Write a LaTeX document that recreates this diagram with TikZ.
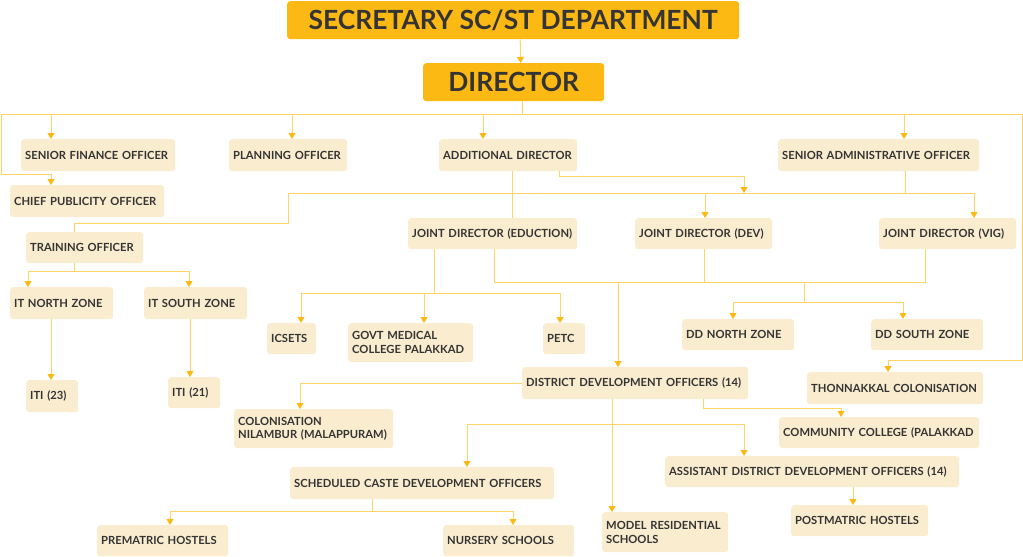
\documentclass[tikz,border=0pt]{standalone}
\usepackage{fontspec}
\setmainfont{Lato}
\usepackage{xcolor}
\usetikzlibrary{arrows.meta}
\usetikzlibrary{calc}

\definecolor{headgold}{RGB}{253,185,19}
\definecolor{boxcream}{RGB}{250,236,206}
\definecolor{wiregold}{RGB}{255,212,100}
\definecolor{inkgray}{RGB}{52,52,52}

\begin{document}
\begin{tikzpicture}[x=1pt, y=-1pt,
    head/.style={fill=headgold, rounded corners=3pt, anchor=north west, inner sep=0pt,
      text=inkgray, font=\fontsize{26.4}{30}\selectfont\bfseries},
    unit/.style={fill=boxcream, rounded corners=3pt, anchor=north west, inner sep=4pt,
      align=left, text=inkgray, font=\fontsize{11.2}{13.7}\selectfont\bfseries},
    wire/.style={draw=wiregold, line width=1pt},
    wirearrow/.style={wire, -{Triangle[width=7pt,length=6pt,color=headgold]}}]
  \useasboundingbox (0,0) rectangle (1023,557);

  % top of the chart
  \node[head, minimum width=452, minimum height=38] (sec) at (287,1) {SECRETARY SC/ST DEPARTMENT};
  \node[head, minimum width=181, minimum height=38] (dir) at (423,63) {DIRECTOR};

  \node[unit, minimum height=32, text width=146] (sfo) at (21,139) {SENIOR FINANCE OFFICER};
  \node[unit, minimum height=32, text width=110] (po) at (229,139) {PLANNING OFFICER};
  \node[unit, minimum height=32, text width=130] (ad) at (439,139) {ADDITIONAL DIRECTOR};
  \node[unit, minimum height=32, text width=193] (sao) at (778,139) {SENIOR ADMINISTRATIVE OFFICER};
  \node[unit, minimum height=32, text width=146] (cpo) at (10,185) {CHIEF PUBLICITY OFFICER};
  \node[unit, minimum height=31, text width=109] (to) at (26,232) {TRAINING OFFICER};

  \node[unit, minimum height=31, text width=161] (jdedu) at (408,218) {JOINT DIRECTOR (EDUCTION)};
  \node[unit, minimum height=31, text width=129] (jddev) at (635,218) {JOINT DIRECTOR (DEV)};
  \node[unit, minimum height=31, text width=129] (jdvig) at (879,218) {JOINT DIRECTOR (VIG)};

  \node[unit, minimum height=32, text width=95] (itn) at (10,287) {IT NORTH ZONE};
  \node[unit, minimum height=32, text width=95] (its) at (144,287) {IT SOUTH ZONE};
  \node[unit, minimum height=32, text width=44] (iti23) at (26,380) {ITI (23)};
  \node[unit, minimum height=31, text width=44] (iti21) at (168,377) {ITI (21)};

  \node[unit, minimum height=31, text width=41] (icsets) at (267,323) {ICSETS};
  \node[unit, minimum height=39, text width=117] (gmc) at (348,323) {GOVT MEDICAL\\COLLEGE PALAKKAD};
  \node[unit, minimum height=31, text width=34] (petc) at (543,323) {PETC};
  \node[unit, minimum height=31, text width=104] (ddn) at (682,319) {DD NORTH ZONE};
  \node[unit, minimum height=31, text width=104] (dds) at (871,319) {DD SOUTH ZONE};

  \node[unit, minimum height=32, text width=218] (ddo) at (522,367) {DISTRICT DEVELOPMENT OFFICERS (14)};
  \node[unit, minimum height=32, text width=168] (thon) at (807,372) {THONNAKKAL COLONISATION};
  \node[unit, minimum height=39, text width=151] (col) at (234,409) {COLONISATION\\NILAMBUR (MALAPPURAM)};
  \node[unit, minimum height=31, text width=192] (cc) at (779,417) {COMMUNITY COLLEGE (PALAKKAD};
  \node[unit, minimum height=31, text width=286] (addo) at (665,456) {ASSISTANT DISTRICT DEVELOPMENT OFFICERS (14)};
  \node[unit, minimum height=32, text width=256] (scdo) at (290,467) {SCHEDULED CASTE DEVELOPMENT OFFICERS};
  \node[unit, minimum height=31, text width=129] (post) at (791,505) {POSTMATRIC HOSTELS};
  \node[unit, minimum height=40, text width=118] (mrs) at (602,512) {MODEL RESIDENTIAL\\SCHOOLS};
  \node[unit, minimum height=31, text width=123] (prem) at (97,525) {PREMATRIC HOSTELS};
  \node[unit, minimum height=31, text width=123] (nurs) at (443,525) {NURSERY SCHOOLS};

  \coordinate (lbend) at (1,174);
  \coordinate (rbend) at (1022,360);
  \coordinate (jdbus) at (744,193);
  \coordinate (tobend) at (288,223);
  \coordinate (jdjoin) at (618,282);
  \coordinate (ddjoin) at (804,282);

  % secretary and director
  \draw[wirearrow] ([xshift=7]sec.south) -- ([xshift=7]dir.north);
  \draw[wirearrow] ([xshift=9]dir.south) -- ++(0,13) -| ([xshift=30]sfo.north west);
  \draw[wirearrow] ([xshift=9]dir.south) -- ++(0,13) -| ([xshift=63]po.north west);
  \draw[wirearrow] ([xshift=9]dir.south) -- ++(0,13) -| ([xshift=44]ad.north west);
  \draw[wirearrow] ([xshift=9]dir.south) -- ++(0,13) -| ([xshift=126]sao.north west);
  \draw[wirearrow] ([xshift=9]dir.south) -- ++(0,13) -| (lbend) -| ([xshift=41]cpo.north west);
  \draw[wirearrow] ([xshift=9]dir.south) -- ++(0,13) -| (rbend) -| ([xshift=81]thon.north west);

  % additional director, senior administrative officer
  \draw[wire] ([xshift=73]ad.south west) -- ([xshift=104]jdedu.north west);
  \draw[wirearrow] ([xshift=120]ad.south west) -- ++(0,5) -| (jdbus);
  \draw[wire] ([xshift=127]sao.south west) -- ++(0,22) -| (tobend) -| ([xshift=48]to.north west);
  \draw[wirearrow] ([xshift=127]sao.south west) -- ++(0,22) -| ([xshift=70]jddev.north west);
  \draw[wirearrow] ([xshift=127]sao.south west) -- ++(0,22) -| ([xshift=95]jdvig.north west);

  % training officer
  \draw[wirearrow] ([xshift=48]to.south west) -- ++(0,8) -| ([xshift=18]itn.north west);
  \draw[wirearrow] ([xshift=48]to.south west) -- ++(0,8) -| ([xshift=45]its.north west);
  \draw[wirearrow] ([xshift=41]itn.south west) -- ([xshift=25]iti23.north west);
  \draw[wirearrow] ([xshift=46]its.south west) -- ([xshift=22]iti21.north west);

  % joint directors
  \draw[wirearrow] ([xshift=26]jdedu.south west) -- ++(0,44) -| ([xshift=34]icsets.north west);
  \draw[wirearrow] ([xshift=26]jdedu.south west) -- ++(0,44) -| ([xshift=76]gmc.north west);
  \draw[wirearrow] ([xshift=26]jdedu.south west) -- ++(0,44) -| ([xshift=17]petc.north west);
  \draw[wirearrow] ([xshift=86]jdedu.south west) |- (jdjoin) -- ([xshift=96]ddo.north west);
  \draw[wire] ([xshift=69]jddev.south west) |- (jdjoin);
  \draw[wire] ([xshift=46]jdvig.south west) |- (jdjoin);
  \draw[wirearrow] (ddjoin) -- ++(0,20) -| ([xshift=51]ddn.north west);
  \draw[wirearrow] (ddjoin) -- ++(0,20) -| ([xshift=32]dds.north west);

  % district development officers
  \draw[wirearrow] (ddo.west) -| ([xshift=66]col.north west);
  \draw[wirearrow] ([xshift=181]ddo.south west) -- ++(0,9) -| ([xshift=62]cc.north west);
  \draw[wirearrow] ([xshift=90]ddo.south west) -- ([xshift=10]mrs.north west);
  \draw[wirearrow] ([xshift=90]ddo.south west) -- ++(0,25) -| ([xshift=177]scdo.north west);
  \draw[wirearrow] ([xshift=90]ddo.south west) -- ++(0,25) -| ([xshift=79]addo.north west);
  \draw[wirearrow] ([xshift=82]scdo.south west) -- ++(0,12) -| ([xshift=73]prem.north west);
  \draw[wirearrow] ([xshift=82]scdo.south west) -- ++(0,12) -| ([xshift=70]nurs.north west);
  \draw[wirearrow] ([xshift=188]addo.south west) -- ([xshift=62]post.north west);
\end{tikzpicture}
\end{document}
